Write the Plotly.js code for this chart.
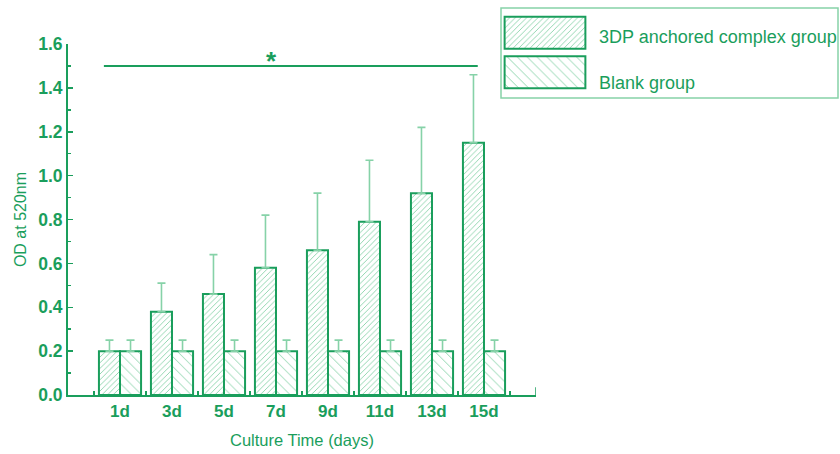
<!DOCTYPE html>
<html>
<head>
<meta charset="utf-8">
<script src="https://cdn.plot.ly/plotly-3.0.1.min.js"></script>
<style>html,body{margin:0;padding:0;background:#fff;}#chart{width:840px;height:454px;}</style>
</head>
<body>
<div id="chart"></div>
<script>
// ---- data ----
const categories = ['1d', '3d', '5d', '7d', '9d', '11d', '13d', '15d'];
const seriesNames = ['3DP anchored complex group', 'Blank group'];
const complexValues = [0.20, 0.38, 0.46, 0.58, 0.66, 0.79, 0.92, 1.15];
const complexErrors = [0.05, 0.13, 0.18, 0.24, 0.26, 0.28, 0.30, 0.31];
const blankValues = [0.20, 0.20, 0.20, 0.20, 0.20, 0.20, 0.20, 0.20];
const blankErrors = [0.05, 0.05, 0.05, 0.05, 0.05, 0.05, 0.05, 0.05];
const yTickValues = [0, 0.2, 0.4, 0.6, 0.8, 1.0, 1.2, 1.4, 1.6];
const significanceLevel = 1.5;
const significanceText = '*';

// ---- style ----
const green = '#1a9e5c';
const lightGreen = '#86d2a8';
const font = 'Liberation Sans, Arial, Helvetica, sans-serif';
const W = 840, H = 454;

const complexTrace = {
  type: 'bar', x: categories, y: complexValues, name: seriesNames[0],
  showlegend: false,
  marker: {
    color: 'white',
    line: {color: green, width: 2},
    pattern: {shape: '/', size: 4, solidity: 0.22, fgcolor: lightGreen, bgcolor: 'white'}
  },
  error_y: {type: 'data', symmetric: false, array: complexErrors, arrayminus: complexErrors.map(() => 0),
            color: lightGreen, thickness: 1.6, width: 4}
};
const blankTrace = {
  type: 'bar', x: categories, y: blankValues, name: seriesNames[1],
  showlegend: false,
  marker: {
    color: 'white',
    line: {color: green, width: 2},
    pattern: {shape: '\\', size: 7, solidity: 0.13, fgcolor: lightGreen, bgcolor: 'white'}
  },
  error_y: {type: 'data', symmetric: false, array: blankErrors, arrayminus: blankErrors.map(() => 0),
            color: lightGreen, thickness: 1.6, width: 4}
};
// legend swatches drawn as bars on a small separate subplot
const legendSwatches = {
  type: 'bar', orientation: 'h', x: seriesNames.map(() => 1), y: seriesNames,
  xaxis: 'x2', yaxis: 'y2', showlegend: false, hoverinfo: 'skip',
  marker: {
    color: 'white',
    line: {color: green, width: 2},
    pattern: {shape: ['/', '\\'], size: [4, 7], solidity: [0.22, 0.13], fgcolor: lightGreen, bgcolor: 'white'}
  }
};

const layout = {
  width: W, height: H,
  margin: {l: 0, r: 0, t: 0, b: 0},
  paper_bgcolor: 'white', plot_bgcolor: 'white',
  font: {family: font, color: green},
  barmode: 'group', bargap: 0.19, bargroupgap: 0,
  showlegend: false,
  xaxis: {
    type: 'category', categoryarray: categories, categoryorder: 'array',
    domain: [68 / W, 536 / W], range: [-1, 8],
    showline: true, linecolor: green, linewidth: 2,
    ticks: 'inside', tickson: 'boundaries', ticklen: 4, tickwidth: 1.5, tickcolor: green,
    showgrid: false, zeroline: false,
    tickfont: {family: font, size: 17, color: green, weight: 'bold'},
    title: {text: 'Culture Time (days)', font: {family: font, size: 16.5, color: green}, standoff: 14}
  },
  yaxis: {
    domain: [59 / H, 410 / H], range: [0, 1.6],
    tickmode: 'array', tickvals: yTickValues, tickformat: '.1f',
    showline: true, linecolor: green, linewidth: 2,
    ticks: 'inside', ticklen: 5, tickwidth: 1.5, tickcolor: green,
    minor: {dtick: 0.1, tick0: 0, ticks: 'inside', ticklen: 3, tickwidth: 1.5, tickcolor: green, showgrid: false},
    showgrid: false, zeroline: false,
    tickfont: {family: font, size: 17.5, color: green, weight: 'bold'},
    title: {text: 'OD at 520nm', font: {family: font, size: 16, color: green}, standoff: 8}
  },
  xaxis2: {
    domain: [503 / W, 587 / W], range: [-0.02, 1.02], anchor: 'y2',
    visible: false, fixedrange: true
  },
  yaxis2: {
    domain: [(H - 92) / H, (H - 13) / H], range: [1.5, -0.5], anchor: 'x2',
    type: 'category', categoryarray: seriesNames, visible: false, fixedrange: true
  },
  shapes: [
    {type: 'line', xref: 'x', yref: 'y', x0: -0.31, x1: 6.88, y0: significanceLevel, y1: significanceLevel,
     line: {color: green, width: 2}},
    {type: 'line', xref: 'x', yref: 'y', x0: 8, x1: 8, y0: 0, y1: 0.035,
     line: {color: green, width: 1.5}},
    {type: 'rect', xref: 'paper', yref: 'paper', x0: 501 / W, x1: 838 / W, y0: (H - 98) / H, y1: (H - 8) / H,
     line: {color: lightGreen, width: 1.5}, fillcolor: 'rgba(0,0,0,0)', layer: 'below'}
  ],
  annotations: [
    {xref: 'x', yref: 'y', x: 2.92, y: significanceLevel, text: significanceText, showarrow: false,
     yanchor: 'bottom', yshift: -12, font: {family: font, size: 26, color: green, weight: 'bold'}},
    {xref: 'paper', yref: 'paper', x: 597 / W, y: (H - 37) / H, xanchor: 'left', yanchor: 'middle',
     text: seriesNames[0], showarrow: false, font: {family: font, size: 18, color: green}},
    {xref: 'paper', yref: 'paper', x: 597 / W, y: (H - 83) / H, xanchor: 'left', yanchor: 'middle',
     text: seriesNames[1], showarrow: false, font: {family: font, size: 18, color: green}}
  ]
};

Plotly.newPlot('chart', [complexTrace, blankTrace, legendSwatches], layout, {displayModeBar: false, staticPlot: true});
</script>
</body>
</html>
